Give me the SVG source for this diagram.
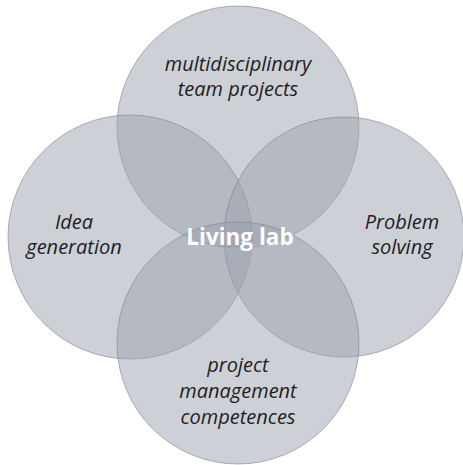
<svg xmlns="http://www.w3.org/2000/svg" width="463" height="465" viewBox="0 0 463 465">
<style>
.c{fill:#9ca2ad;fill-opacity:0.5;stroke:#7d838d;stroke-opacity:0.6;stroke-width:1}
.t{font-family:"Open Sans","Noto Sans",sans-serif;font-style:italic;font-size:20px;fill:#1e1e1e;text-anchor:middle}
.ll{font-family:"Open Sans","Noto Sans",sans-serif;font-weight:bold;font-size:22.5px;fill:#ffffff;text-anchor:middle}
</style>
<rect width="463" height="465" fill="#ffffff"/>
<g id="top"><circle class="c" cx="238" cy="127" r="121"/></g>
<g id="left"><circle class="c" cx="130" cy="237" r="122"/></g>
<g id="right"><circle class="c" cx="344" cy="237" r="120"/></g>
<g id="bottom"><circle class="c" cx="238" cy="343" r="121"/></g>
<g id="connectors"></g>
<g id="labels">
<text class="t" x="238" y="71">multidisciplinary</text>
<text class="t" x="238" y="96">team projects</text>
<text class="t" x="74" y="229">Idea</text>
<text class="t" x="74" y="254">generation</text>
<text class="t" x="402" y="229">Problem</text>
<text class="t" x="402" y="254">solving</text>
<text class="t" x="238" y="372">project</text>
<text class="t" x="238" y="398">management</text>
<text class="t" x="238" y="424">competences</text>
<text class="ll" x="240" y="245">Living lab</text>
</g>
</svg>
